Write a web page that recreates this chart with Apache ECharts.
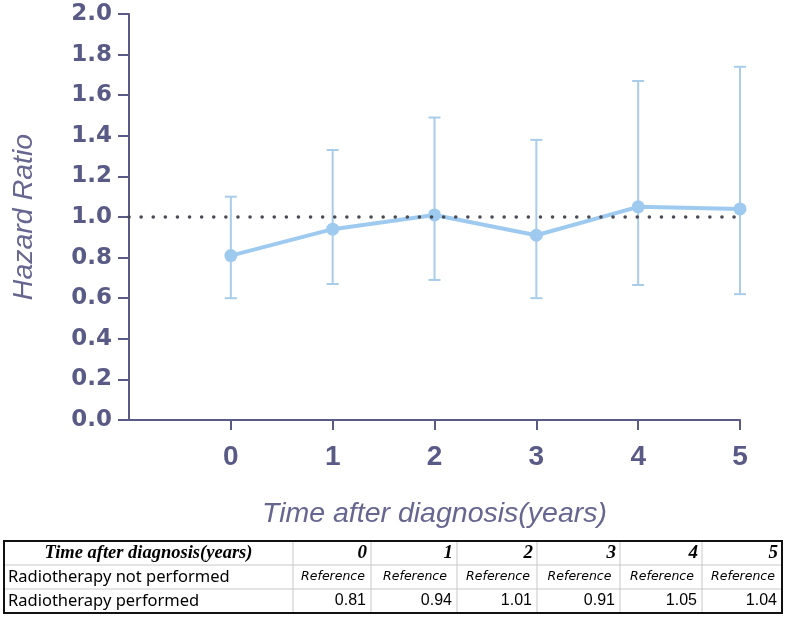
<!DOCTYPE html>
<html>
<head>
<meta charset="utf-8">
<script src="https://cdn.jsdelivr.net/npm/echarts@6/dist/echarts.min.js"></script>
<style>html,body{margin:0;padding:0;background:#fff}#c{width:787px;height:618px}</style>
</head>
<body>
<div id="c"></div>
<script>
// ---- data ----
var categories = ['0', '1', '2', '3', '4', '5'];
var hazardRatio = [0.81, 0.94, 1.01, 0.91, 1.05, 1.04];
var ciLower = [0.60, 0.67, 0.69, 0.60, 0.665, 0.62];
var ciUpper = [1.10, 1.33, 1.49, 1.38, 1.67, 1.74];
var yTicks = [0, 0.2, 0.4, 0.6, 0.8, 1.0, 1.2, 1.4, 1.6, 1.8, 2.0];
var referenceLine = 1.0;
var tableHeader = 'Time after diagnosis(years)';
var rowNames = ['Radiotherapy not performed', 'Radiotherapy performed'];
var notPerformedRow = ['Reference', 'Reference', 'Reference', 'Reference', 'Reference', 'Reference'];
var performedRow = ['0.81', '0.94', '1.01', '0.91', '1.05', '1.04'];

// ---- layout ----
var axisColor = '#5a5a86';
var lineColor = '#9ecaf0';
var barColor = '#a9cce9';
var axisData = [''].concat(categories);

var tX = 4, tY = 541, rowH = 24;
var colEdges = [293, 371, 457, 537, 620, 702, 782];

var graphics = [];
var tRight = colEdges[colEdges.length - 1];
var tBottom = tY + rowH * 3;
for (var r = 1; r < 3; r++) {
  graphics.push({type: 'line', shape: {x1: tX, y1: tY + rowH * r, x2: tRight, y2: tY + rowH * r}, style: {stroke: '#c8c8c8', lineWidth: 1}});
}
for (var c = 0; c < colEdges.length - 1; c++) {
  graphics.push({type: 'line', shape: {x1: colEdges[c], y1: tY, x2: colEdges[c], y2: tBottom}, style: {stroke: '#c8c8c8', lineWidth: 1}});
}
graphics.push({type: 'rect', shape: {x: tX, y: tY, width: tRight - tX, height: tBottom - tY}, style: {fill: 'none', stroke: '#111', lineWidth: 2}});
graphics.push({type: 'text', x: (tX + colEdges[0]) / 2, y: tY + rowH / 2, style: {text: tableHeader, font: 'italic bold 18.5px "Liberation Serif"', fill: '#000', align: 'center', verticalAlign: 'middle'}});
for (var c = 0; c < categories.length; c++) {
  graphics.push({type: 'text', x: colEdges[c + 1] - 4, y: tY + rowH / 2, style: {text: categories[c], font: 'italic bold 19px "Liberation Serif"', fill: '#000', align: 'right', verticalAlign: 'middle'}});
  graphics.push({type: 'text', x: (colEdges[c] + colEdges[c + 1]) / 2 + 1, y: tY + rowH * 1.5, style: {text: notPerformedRow[c], font: 'italic 12.5px "DejaVu Sans"', fill: '#000', align: 'center', verticalAlign: 'middle'}});
  graphics.push({type: 'text', x: colEdges[c + 1] - 5, y: tY + rowH * 2.5, style: {text: performedRow[c], font: '16px "Liberation Sans"', fill: '#000', align: 'right', verticalAlign: 'middle'}});
}
for (var r = 0; r < rowNames.length; r++) {
  graphics.push({type: 'text', x: tX + 4, y: tY + rowH * (1.5 + r), style: {text: rowNames[r], font: '16.5px "Noto Sans"', fill: '#000', align: 'left', verticalAlign: 'middle'}});
}

var chart = echarts.init(document.getElementById('c'));
chart.setOption({
  animation: false,
  backgroundColor: '#fff',
  grid: {left: 129, right: 47, top: 14, bottom: 198},
  xAxis: {
    type: 'category',
    data: axisData,
    boundaryGap: false,
    name: 'Time after diagnosis(years)',
    nameLocation: 'middle',
    nameGap: 80,
    nameTextStyle: {fontFamily: 'Liberation Sans', fontStyle: 'italic', fontSize: 28.5, color: '#666690'},
    axisLine: {lineStyle: {color: axisColor, width: 2}},
    axisTick: {length: 10, lineStyle: {color: axisColor, width: 2}, interval: function (i) { return i > 0; }},
    axisLabel: {interval: 0, margin: 23, fontFamily: 'Liberation Sans', fontWeight: 'bold', fontSize: 28, color: axisColor},
    splitLine: {show: false}
  },
  yAxis: {
    type: 'value',
    min: yTicks[0],
    max: yTicks[yTicks.length - 1],
    interval: 0.2,
    name: 'Hazard Ratio',
    nameLocation: 'middle',
    nameGap: 90,
    nameTextStyle: {fontFamily: 'Liberation Sans', fontStyle: 'italic', fontSize: 28.5, color: '#666690'},
    axisLine: {show: true, lineStyle: {color: axisColor, width: 2}},
    axisTick: {show: true, length: 11, lineStyle: {color: axisColor, width: 2}},
    axisLabel: {margin: 17, fontFamily: 'DejaVu Sans', fontWeight: 'bold', fontSize: 23, color: axisColor, formatter: function (v) { return v.toFixed(1); }},
    splitLine: {show: false}
  },
  series: [
    {
      type: 'custom',
      z: 2,
      data: categories.map(function (c, i) { return [i + 1, ciLower[i], ciUpper[i]]; }),
      renderItem: function (params, api) {
        var x = api.value(0);
        var lo = api.coord([x, api.value(1)]);
        var hi = api.coord([x, api.value(2)]);
        var hw = 6;
        var st = {stroke: barColor, lineWidth: 2};
        return {type: 'group', children: [
          {type: 'line', shape: {x1: lo[0], y1: lo[1], x2: hi[0], y2: hi[1]}, style: st},
          {type: 'line', shape: {x1: lo[0] - hw, y1: lo[1], x2: lo[0] + hw, y2: lo[1]}, style: st},
          {type: 'line', shape: {x1: hi[0] - hw, y1: hi[1], x2: hi[0] + hw, y2: hi[1]}, style: st}
        ]};
      }
    },
    {
      type: 'line',
      z: 3,
      data: categories.map(function (c, i) { return [i + 1, hazardRatio[i]]; }),
      symbol: 'circle',
      symbolSize: 13,
      lineStyle: {color: lineColor, width: 4},
      itemStyle: {color: lineColor},
      markLine: {
        silent: true,
        symbol: 'none',
        label: {show: false},
        lineStyle: {color: '#4a4a55', width: 3.5, type: [0.1, 12], cap: 'round'},
        data: [{yAxis: referenceLine}]
      }
    }
  ],
  graphic: graphics
});
</script>
</body>
</html>
